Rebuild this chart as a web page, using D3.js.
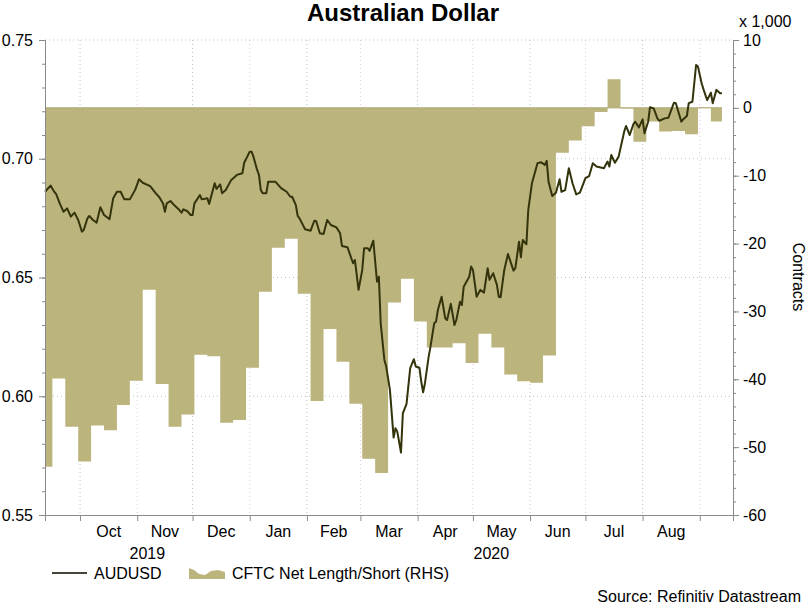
<!DOCTYPE html>
<html>
<head>
<meta charset="utf-8">
<script src="https://cdn.jsdelivr.net/npm/d3@7"></script>
<style>
  body { margin: 0; background: #fff; }
  svg { display: block; font-family: "Liberation Sans", Arial, sans-serif; }
</style>
</head>
<body>
<svg id="chart"></svg>
<script>
const CONF = {
    width: 806,
    height: 605,
    left: 45,
    right: 733,
    top: 40,
    bottom: 515,
    lineColor: "#34340c",
    areaColor: "#bcb47d",
    axisColor: "#8a8a8a",
    gridColor: "#b4c8bc",
}

// AUDUSD
const audDates = [
    "2019-09-12", "2019-09-15", "2019-09-17", "2019-09-18", "2019-09-20", "2019-09-22", "2019-09-24", "2019-09-26", "2019-09-28", "2019-09-30",
    "2019-10-02", "2019-10-03", "2019-10-05", "2019-10-06", "2019-10-08", "2019-10-10", "2019-10-12", "2019-10-14", "2019-10-17", "2019-10-19",
    "2019-10-21", "2019-10-23", "2019-10-25", "2019-10-28", "2019-10-31", "2019-11-02", "2019-11-04", "2019-11-08", "2019-11-11", "2019-11-13",
    "2019-11-15", "2019-11-16", "2019-11-17", "2019-11-19", "2019-11-21", "2019-11-23", "2019-11-25", "2019-11-26", "2019-11-28", "2019-11-30",
    "2019-12-01", "2019-12-02", "2019-12-05", "2019-12-06", "2019-12-09", "2019-12-10", "2019-12-13", "2019-12-14", "2019-12-16", "2019-12-17",
    "2019-12-19", "2019-12-22", "2019-12-25", "2019-12-28", "2019-12-29", "2020-01-01", "2020-01-02", "2020-01-03", "2020-01-05", "2020-01-06",
    "2020-01-07", "2020-01-08", "2020-01-10", "2020-01-11", "2020-01-15", "2020-01-18", "2020-01-21", "2020-01-23", "2020-01-24", "2020-01-26",
    "2020-01-27", "2020-01-28", "2020-01-31", "2020-02-03", "2020-02-05", "2020-02-06", "2020-02-08", "2020-02-10", "2020-02-12", "2020-02-14",
    "2020-02-17", "2020-02-19", "2020-02-20", "2020-02-23", "2020-02-24", "2020-02-26", "2020-02-27", "2020-02-29", "2020-03-02", "2020-03-03",
    "2020-03-05", "2020-03-06", "2020-03-08", "2020-03-10", "2020-03-11", "2020-03-12", "2020-03-14", "2020-03-15", "2020-03-17", "2020-03-19",
    "2020-03-20", "2020-03-21", "2020-03-23", "2020-03-24", "2020-03-26", "2020-03-28", "2020-03-30", "2020-03-31", "2020-04-02", "2020-04-03",
    "2020-04-04", "2020-04-05", "2020-04-07", "2020-04-08", "2020-04-10", "2020-04-11", "2020-04-12", "2020-04-14", "2020-04-16", "2020-04-17",
    "2020-04-19", "2020-04-21", "2020-04-22", "2020-04-24", "2020-04-25", "2020-04-26", "2020-04-29", "2020-04-30", "2020-05-01", "2020-05-03",
    "2020-05-05", "2020-05-07", "2020-05-09", "2020-05-10", "2020-05-12", "2020-05-14", "2020-05-15", "2020-05-16", "2020-05-18", "2020-05-20",
    "2020-05-23", "2020-05-24", "2020-05-26", "2020-05-27", "2020-05-28", "2020-05-30", "2020-05-31", "2020-06-02", "2020-06-05", "2020-06-07",
    "2020-06-09", "2020-06-10", "2020-06-11", "2020-06-13", "2020-06-15", "2020-06-17", "2020-06-18", "2020-06-20", "2020-06-22", "2020-06-24",
    "2020-06-26", "2020-06-28", "2020-07-01", "2020-07-03", "2020-07-05", "2020-07-07", "2020-07-11", "2020-07-13", "2020-07-14", "2020-07-15",
    "2020-07-17", "2020-07-19", "2020-07-22", "2020-07-23", "2020-07-25", "2020-07-27", "2020-07-28", "2020-07-30", "2020-08-01", "2020-08-02",
    "2020-08-04", "2020-08-05", "2020-08-07", "2020-08-09", "2020-08-10", "2020-08-13", "2020-08-15", "2020-08-18", "2020-08-19", "2020-08-22",
    "2020-08-23", "2020-08-25", "2020-08-26", "2020-08-28", "2020-08-29", "2020-08-30", "2020-08-31", "2020-09-02", "2020-09-03", "2020-09-05",
    "2020-09-07", "2020-09-08", "2020-09-10", "2020-09-12", "2020-09-13",
]
const audValues = [
    0.6861, 0.6887, 0.6861, 0.6852, 0.6812, 0.6777, 0.6791, 0.6756, 0.6773, 0.6742,
    0.6693, 0.6700, 0.6749, 0.6759, 0.6742, 0.6731, 0.6796, 0.6763, 0.6746, 0.6834,
    0.6861, 0.6861, 0.6829, 0.6829, 0.6871, 0.6914, 0.6899, 0.6885, 0.6855, 0.6838,
    0.6812, 0.6777, 0.6812, 0.6822, 0.6805, 0.6791, 0.6773, 0.6787, 0.6780, 0.6763,
    0.6763, 0.6812, 0.6847, 0.6829, 0.6834, 0.6810, 0.6897, 0.6873, 0.6892, 0.6855,
    0.6868, 0.6911, 0.6932, 0.6939, 0.6983, 0.7030, 0.7030, 0.7009, 0.6953, 0.6932,
    0.6868, 0.6855, 0.6855, 0.6903, 0.6903, 0.6876, 0.6861, 0.6840, 0.6840, 0.6805,
    0.6759, 0.6749, 0.6703, 0.6697, 0.6739, 0.6738, 0.6686, 0.6683, 0.6742, 0.6721,
    0.6711, 0.6686, 0.6633, 0.6627, 0.6605, 0.6560, 0.6574, 0.6448, 0.6532, 0.6623,
    0.6623, 0.6612, 0.6655, 0.6482, 0.6503, 0.6307, 0.6153, 0.6125, 0.6027, 0.5826,
    0.5865, 0.5851, 0.5763, 0.5928, 0.5968, 0.6118, 0.6156, 0.6125, 0.6120, 0.6061,
    0.6017, 0.6055, 0.6167, 0.6209, 0.6307, 0.6314, 0.6363, 0.6419, 0.6328, 0.6321,
    0.6389, 0.6300, 0.6321, 0.6398, 0.6384, 0.6461, 0.6503, 0.6546, 0.6532, 0.6419,
    0.6448, 0.6436, 0.6539, 0.6490, 0.6518, 0.6469, 0.6419, 0.6417, 0.6532, 0.6599,
    0.6529, 0.6539, 0.6651, 0.6585, 0.6658, 0.6640, 0.6784, 0.6897, 0.6981, 0.6985,
    0.6974, 0.6991, 0.6903, 0.6843, 0.6857, 0.6914, 0.6861, 0.6868, 0.6960, 0.6897,
    0.6850, 0.6857, 0.6918, 0.6927, 0.6981, 0.6967, 0.6960, 0.6988, 0.6967, 0.7016,
    0.6983, 0.7009, 0.7114, 0.7138, 0.7100, 0.7146, 0.7156, 0.7132, 0.7166, 0.7107,
    0.7156, 0.7217, 0.7212, 0.7170, 0.7160, 0.7170, 0.7173, 0.7236, 0.7234, 0.7156,
    0.7166, 0.7180, 0.7234, 0.7240, 0.7318, 0.7395, 0.7388, 0.7318, 0.7292, 0.7247,
    0.7278, 0.7234, 0.7290, 0.7276, 0.7276,
]

// CFTC net position, thousands of contracts, weekly (held until next week)
const cftcDates = [
    "2019-09-12", "2019-09-16", "2019-09-23", "2019-09-30", "2019-10-07", "2019-10-14", "2019-10-21", "2019-10-28", "2019-11-04", "2019-11-11",
    "2019-11-18", "2019-11-25", "2019-12-02", "2019-12-09", "2019-12-16", "2019-12-23", "2019-12-30", "2020-01-06", "2020-01-13", "2020-01-20",
    "2020-01-27", "2020-02-03", "2020-02-10", "2020-02-17", "2020-02-24", "2020-03-02", "2020-03-09", "2020-03-16", "2020-03-23", "2020-03-30",
    "2020-04-06", "2020-04-13", "2020-04-20", "2020-04-27", "2020-05-04", "2020-05-11", "2020-05-18", "2020-05-25", "2020-06-01", "2020-06-08",
    "2020-06-15", "2020-06-22", "2020-06-29", "2020-07-06", "2020-07-13", "2020-07-20", "2020-07-27", "2020-08-03", "2020-08-10", "2020-08-17",
    "2020-08-24", "2020-08-31", "2020-09-07", "2020-09-13",
]
const cftcValues = [
    -52.9, -39.9, -47.0, -52.1, -46.8, -47.5, -43.8, -40.2, -26.8, -40.7,
    -47.0, -45.2, -36.4, -36.6, -46.4, -46.0, -38.3, -27.1, -20.6, -19.3,
    -27.4, -43.2, -32.6, -37.4, -43.6, -51.7, -53.8, -28.7, -25.2, -31.5,
    -35.3, -35.3, -34.7, -37.6, -33.3, -35.3, -39.3, -40.3, -40.5, -36.5,
    -6.6, -4.8, -2.7, -0.6, 4.2, -0.1, -5.0, -2.0, -3.5, -3.4,
    -3.9, 0.1, -2.0, -2.0,
]

const domainDates = ["2019-09-12", "2020-09-19"]
const leftTicks = [0.55, 0.60, 0.65, 0.70, 0.75]
const rightTicks = [-60, -50, -40, -30, -20, -10, 0, 10]
const yearLabels = [["2019", "2019-09-12", "2020-01-01"], ["2020", "2020-01-01", "2020-09-19"]]

const parse = d3.timeParse("%Y-%m-%d")

let svg = d3.select("svg#chart").attr("width", CONF.width).attr("height", CONF.height)

let x = d3.scaleTime().domain(domainDates.map(parse)).range([CONF.left, CONF.right])
let yL = d3.scaleLinear().domain([0.55, 0.75]).range([CONF.bottom, CONF.top])
let yR = d3.scaleLinear().domain([-60, 10]).range([CONF.bottom, CONF.top])

let aud = audDates.map((d, i) => [parse(d), audValues[i]])
let cftc = cftcDates.map((d, i) => [parse(d), cftcValues[i]])

let monthStarts = d3.timeMonth.range(parse("2019-10-01"), parse("2020-09-02"))

// grid
let grid = svg.append("g")
grid.selectAll()
    .data(leftTicks.slice(1))
    .enter()
    .append("line")
    .attr("x1", CONF.left).attr("x2", CONF.right)
    .attr("y1", d => yL(d)).attr("y2", d => yL(d))
    .attr("stroke", CONF.gridColor)
    .attr("stroke-dasharray", "1,3")
grid.selectAll()
    .data(monthStarts)
    .enter()
    .append("line")
    .attr("x1", d => x(d)).attr("x2", d => x(d))
    .attr("y1", CONF.top).attr("y2", CONF.bottom)
    .attr("stroke", (d, i) => i % 2 ? "#e6c4d4" : CONF.gridColor)
    .attr("stroke-dasharray", "1,3")

// CFTC area
let area = d3.area()
    .x(d => x(d[0]))
    .y0(yR(0))
    .y1(d => yR(d[1]))
    .curve(d3.curveStepAfter)

svg.append("path")
    .datum(cftc)
    .attr("d", area)
    .attr("fill", CONF.areaColor)

svg.append("line")
    .attr("x1", x(cftc[0][0])).attr("x2", x(cftc[cftc.length - 1][0]))
    .attr("y1", yR(0)).attr("y2", yR(0))
    .attr("stroke", "#aca56e")
    .attr("stroke-width", 1)

// AUDUSD line
let line = d3.line()
    .x(d => x(d[0]))
    .y(d => yL(d[1]))

svg.append("path")
    .datum(aud)
    .attr("d", line)
    .attr("fill", "none")
    .attr("stroke", CONF.lineColor)
    .attr("stroke-width", 2)
    .attr("stroke-linejoin", "round")

// axes
function styleAxis(g) {
    g.select(".domain").attr("stroke", CONF.axisColor)
    g.selectAll(".tick line").attr("stroke", CONF.axisColor)
    g.selectAll(".tick text").attr("fill", "#000").style("font-size", "16px")
        .style("font-family", "Liberation Sans, Arial, sans-serif")
}

svg.append("g")
    .attr("transform", `translate(${CONF.left},0)`)
    .call(d3.axisLeft(yL).ticks(20).tickSize(3).tickFormat(""))
    .call(styleAxis)
svg.append("g")
    .attr("transform", `translate(${CONF.left},0)`)
    .call(d3.axisLeft(yL).tickValues(leftTicks).tickSize(6).tickPadding(6).tickFormat(d3.format(".2f")))
    .call(styleAxis)

let rightMinor = d3.range(-60, 11, 2)
svg.append("g")
    .attr("transform", `translate(${CONF.right},0)`)
    .call(d3.axisRight(yR).tickValues(rightMinor).tickSize(3).tickFormat(""))
    .call(styleAxis)
svg.append("g")
    .attr("transform", `translate(${CONF.right},0)`)
    .call(d3.axisRight(yR).tickValues(rightTicks).tickSize(6).tickPadding(4).tickFormat(d3.format("d")))
    .call(styleAxis)
    .selectAll(".tick text").text(d => d < 0 ? "-" + Math.abs(d) : d)

let xAxis = svg.append("g")
    .attr("transform", `translate(0,${CONF.bottom})`)
    .call(d3.axisBottom(x).tickValues(monthStarts).tickSize(6).tickFormat(""))
    .call(styleAxis)

// month labels centred in each full month
svg.selectAll()
    .data(monthStarts.slice(0, -1))
    .enter()
    .append("text")
    .attr("x", d => (x(d) + x(d3.timeMonth.offset(d, 1))) / 2)
    .attr("y", 537)
    .attr("text-anchor", "middle")
    .style("font-size", "16px")
    .text(d3.timeFormat("%b"))

svg.selectAll()
    .data(yearLabels)
    .enter()
    .append("text")
    .attr("x", d => (x(parse(d[1])) + x(parse(d[2]))) / 2)
    .attr("y", 559)
    .attr("text-anchor", "middle")
    .style("font-size", "16px")
    .text(d => d[0])

// titles
svg.append("text")
    .attr("x", 403).attr("y", 21)
    .attr("text-anchor", "middle")
    .style("font-size", "24px").style("font-weight", "bold")
    .text("Australian Dollar")

svg.append("text")
    .attr("x", 739).attr("y", 27)
    .style("font-size", "16px")
    .text("x 1,000")

svg.append("text")
    .attr("transform", "translate(793,277) rotate(90)")
    .attr("text-anchor", "middle")
    .style("font-size", "16px")
    .text("Contracts")

svg.append("text")
    .attr("x", 801).attr("y", 602)
    .attr("text-anchor", "end")
    .style("font-size", "16px")
    .text("Source: Refinitiv Datastream")

// legend
let legend = svg.append("g")
legend.append("line")
    .attr("x1", 52).attr("x2", 87).attr("y1", 573).attr("y2", 573)
    .attr("stroke", "#45453a").attr("stroke-width", 2)
legend.append("text")
    .attr("x", 94).attr("y", 579)
    .style("font-size", "16px")
    .text("AUDUSD")
legend.append("path")
    .attr("d", "M189,568 L194,570 L199,574 L205,575 L211,571 L218,570 L225,572 L225,579 L189,579 Z")
    .attr("fill", CONF.areaColor)
legend.append("text")
    .attr("x", 232).attr("y", 579)
    .style("font-size", "16px")
    .text("CFTC Net Length/Short (RHS)")
</script>
</body>
</html>
